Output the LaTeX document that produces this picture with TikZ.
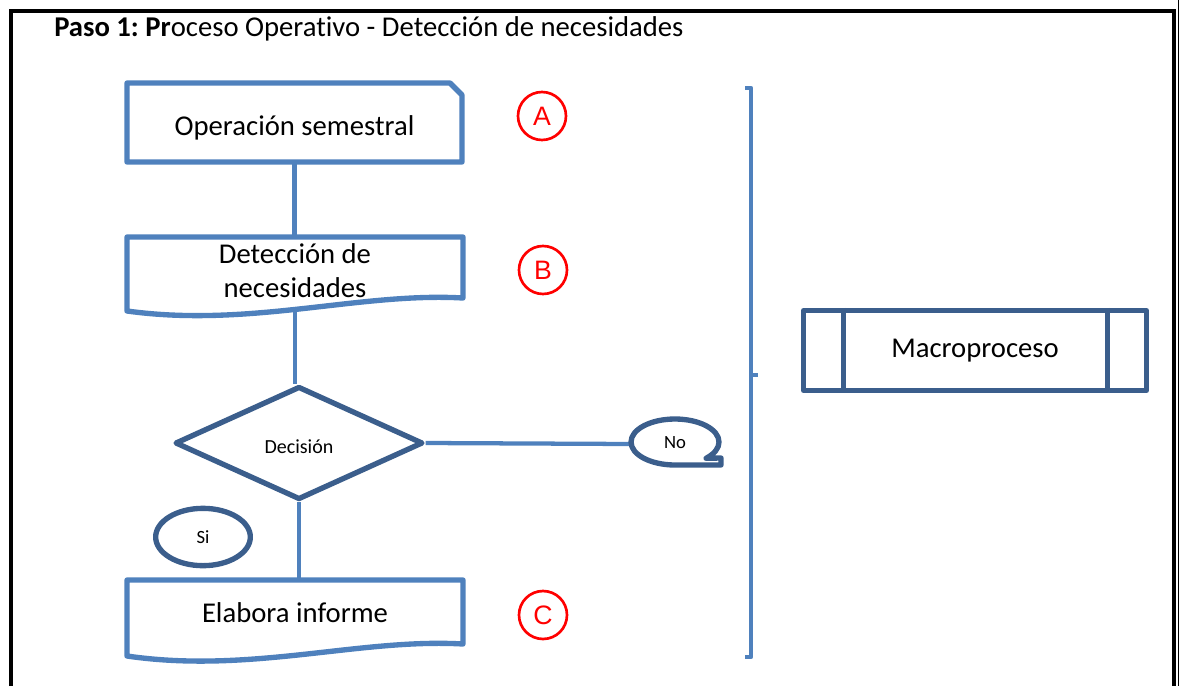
\documentclass[tikz,border=0pt]{standalone}
\usepackage{fontspec}
\setmainfont{Carlito}[Ligatures=NoCommon]
\newfontfamily\arialfont{Liberation Sans}
\usetikzlibrary{shapes.geometric,positioning}
\definecolor{lblue}{RGB}{79,129,189}
\definecolor{dblue}{RGB}{59,94,140}
\frenchspacing

\begin{document}
\begin{tikzpicture}[x=0.75pt, y=-0.75pt,
    caja/.style={draw=lblue, line width=4pt, line join=round, fill=white},
    oscura/.style={draw=dblue, line width=4pt, line join=round, fill=white},
    enlace/.style={lblue, line width=3.2pt},
    texto/.style={font=\fontsize{21.5}{25.5}\selectfont, align=center, inner sep=0pt},
    chico/.style={font=\fontsize{14}{16}\selectfont, inner sep=0pt},
    letra/.style={circle, draw=red, line width=2pt, minimum size=36pt, inner sep=0pt,
                  text=red, font=\arialfont\fontsize{20}{22}\selectfont}]

  \useasboundingbox (0,0) rectangle (1181,686);

  % marco
  \draw [line width=3pt] (11,686) -- (11,11) -- (1173.5,11) -- (1173.5,686);
  \draw [line width=0.8pt] (1178.5,0) -- (1178.5,686);

  \node [anchor=base west, font=\fontsize{21.5}{24}\selectfont, inner sep=0pt] (titulo) at (54,36)
    {\textbf{Paso 1: Pr}oceso Operativo - Detecci\'on de necesidades};

  % nodos
  \node [texto, minimum width=251pt, minimum height=59pt] (oper) at (294.5,122.5) {};
  \node [texto, minimum width=252pt, minimum height=52pt] (deteccion) at (295,272) {};
  \node [oscura, diamond, minimum width=186pt, minimum height=85pt] (decision) at (299,443) {};
  \node [chico, ellipse, minimum width=64pt, minimum height=35pt] (no) at (675,444) {};
  \node [texto, minimum width=252pt, minimum height=52pt] (informe) at (295,615) {};

  % enlaces
  \draw [enlace] (oper.south) -- (oper.south |- deteccion.north);
  \draw [enlace] (deteccion.south) -- (deteccion.south |- decision.north);
  \draw [enlace] (decision.south) -- (decision.south |- informe.north);
  \draw [enlace] (decision.east) -- (no.west);

  % formas
  \draw [caja] (127,83) -- (450,83) -- (462,95) -- (462,162) -- (127,162) -- cycle;
  \draw [caja] (127,237) -- (463,237) -- (463,298)
    .. controls (360,292) and (250,328) .. (127,311) -- cycle;
  \draw [caja] (127,580) -- (463,580) -- (463,644)
    .. controls (360,638) and (250,674) .. (127,656) -- cycle;
  \draw [oscura] (675,465) arc [start angle=90, end angle=405, x radius=44, y radius=23]
    -- (721,458) -- (721,465) -- cycle;

  \node [texto] at (oper) [yshift=-4pt] {Operaci\'on semestral};
  \node [texto] at (deteccion) [yshift=1pt] {Detecci\'on de\\necesidades};
  \node [texto] at (informe) [yshift=2pt] {Elabora informe};
  \node [chico, font=\fontsize{15}{17}\selectfont] at (decision) [yshift=-3pt] {Decisi\'on};
  \node [chico] at (no) [yshift=1pt] {No};
  \node [oscura, ellipse, chico, minimum width=71pt, minimum height=43pt] (si) at (203,537) {Si};

  \node [oscura, texto, rectangle, minimum width=257pt, minimum height=60pt] (macro) at (975,350.5) {Macroproceso};
  \draw [oscura] ([xshift=32pt]macro.north west) -- ([xshift=32pt]macro.south west);
  \draw [oscura] ([xshift=-31pt]macro.north east) -- ([xshift=-31pt]macro.south east);

  % llave
  \draw [enlace, line join=round] (745,88) -- (751,88) -- (751,657) -- (745,657);
  \draw [enlace] (751,375) -- (758,375);

  % letras
  \node [letra] (marcaA) at (542,116) {A};
  \node [letra] (marcaB) at (543,270) {B};
  \node [letra] (marcaC) at (543,615) {C};
\end{tikzpicture}
\end{document}
